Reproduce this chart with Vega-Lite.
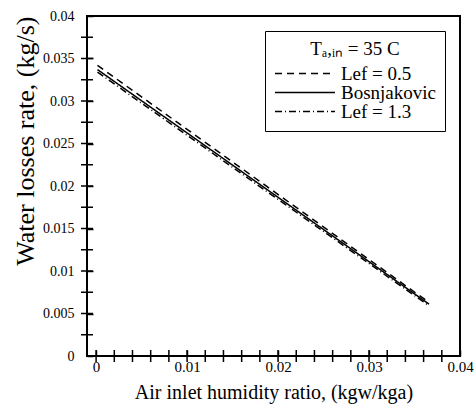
{
  "$schema": "https://vega.github.io/schema/vega-lite/v6.json",
  "width": 373,
  "height": 340,
  "autosize": {"type": "none"},
  "padding": {"left": 87, "top": 16, "right": 15, "bottom": 49},
  "background": "white",
  "config": {
    "font": "Liberation Serif",
    "view": {"stroke": "black", "strokeWidth": 2},
    "axis": {"domain": false, "grid": false, "labelColor": "black", "titleColor": "black", "titleFontWeight": "normal", "labelFont": "Liberation Serif", "titleFont": "Liberation Serif"},
    "legend": {"labelFont": "Liberation Serif", "titleFont": "Liberation Serif"}
  },
  "datasets": {
    "curves": [
      {"x": 0.00015, "y": 0.0342, "s": "Lef = 0.5"},
      {"x": 0.0366, "y": 0.0063, "s": "Lef = 0.5"},
      {"x": 0.00015, "y": 0.0337, "s": "Bosnjakovic"},
      {"x": 0.0366, "y": 0.0061, "s": "Bosnjakovic"},
      {"x": 0.00015, "y": 0.0334, "s": "Lef = 1.3"},
      {"x": 0.0366, "y": 0.0059, "s": "Lef = 1.3"}
    ],
    "xticks": [
      {"x": 0}, {"x": 0.002}, {"x": 0.004}, {"x": 0.006}, {"x": 0.008}, {"x": 0.01}, {"x": 0.012}, {"x": 0.014}, {"x": 0.016}, {"x": 0.018}, {"x": 0.02}, {"x": 0.022}, {"x": 0.024}, {"x": 0.026}, {"x": 0.028}, {"x": 0.03}, {"x": 0.032}, {"x": 0.034}, {"x": 0.036}, {"x": 0.038}
    ],
    "yticks": [
      {"y": 0.0025}, {"y": 0.005}, {"y": 0.0075}, {"y": 0.01}, {"y": 0.0125}, {"y": 0.015}, {"y": 0.0175}, {"y": 0.02}, {"y": 0.0225}, {"y": 0.025}, {"y": 0.0275}, {"y": 0.03}, {"y": 0.0325}, {"y": 0.035}, {"y": 0.0375}
    ]
  },
  "layer": [
    {
      "data": {"name": "curves"},
      "mark": {"type": "line", "color": "black", "strokeWidth": 1.5},
      "encoding": {
        "x": {
          "field": "x",
          "type": "quantitative",
          "scale": {"domain": [-0.001, 0.04], "nice": false, "zero": false},
          "axis": {
            "title": "Air inlet humidity ratio, (kgw/kga)",
            "titleFontSize": 20,
            "titlePadding": 8,
            "labelFontSize": 15,
            "labelPadding": 9,
            "ticks": true,
            "tickSize": -6,
            "tickColor": "black",
            "tickWidth": 1.5,
            "format": ".2~f",
            "values": [0, 0.01, 0.02, 0.03, 0.04],
            "labelFlush": false,
            "labelOverlap": false
          }
        },
        "y": {
          "field": "y",
          "type": "quantitative",
          "scale": {"domain": [0, 0.04], "nice": false, "zero": false},
          "axis": {
            "title": "Water losses rate, (kg/s)",
            "titleFontSize": 26,
            "titleAnchor": "end",
            "titlePadding": 4,
            "labelFontSize": 14,
            "labelPadding": 19,
            "ticks": true,
            "tickSize": -6,
            "tickColor": "black",
            "tickWidth": 1.5,
            "format": ".3~f",
            "values": [0, 0.005, 0.01, 0.015, 0.02, 0.025, 0.03, 0.035, 0.04],
            "labelFlush": false,
            "labelOverlap": false
          }
        },
        "strokeDash": {
          "field": "s",
          "type": "nominal",
          "scale": {"domain": ["Lef = 0.5", "Bosnjakovic", "Lef = 1.3"], "range": [[7, 5], [1, 0], [7, 3, 1, 3]]},
          "legend": {
            "title": "Tₐ,ᵢₙ = 35 C",
            "orient": "top-right",
            "offset": 15,
            "strokeColor": "black",
            "fillColor": "white",
            "padding": 9,
            "titleFontSize": 19,
            "titleFontWeight": "normal",
            "titleColor": "black",
            "titleAnchor": "middle",
            "titlePadding": 6,
            "labelFontSize": 19,
            "labelColor": "black",
            "labelOffset": 5,
            "rowPadding": -4,
            "clipHeight": 17,
            "symbolType": "stroke",
            "symbolSize": 3600,
            "symbolStrokeWidth": 1.5,
            "symbolStrokeColor": "black"
          }
        }
      }
    },
    {
      "data": {"name": "xticks"},
      "mark": {"type": "tick", "color": "black", "orient": "vertical", "size": 12, "thickness": 1.5, "opacity": 1},
      "encoding": {
        "x": {"field": "x", "type": "quantitative"},
        "y": {"datum": 0, "type": "quantitative"}
      }
    },
    {
      "data": {"name": "yticks"},
      "mark": {"type": "tick", "color": "black", "orient": "horizontal", "size": 12, "thickness": 1.5, "opacity": 1},
      "encoding": {
        "y": {"field": "y", "type": "quantitative"},
        "x": {"datum": -0.001, "type": "quantitative"}
      }
    }
  ]
}
